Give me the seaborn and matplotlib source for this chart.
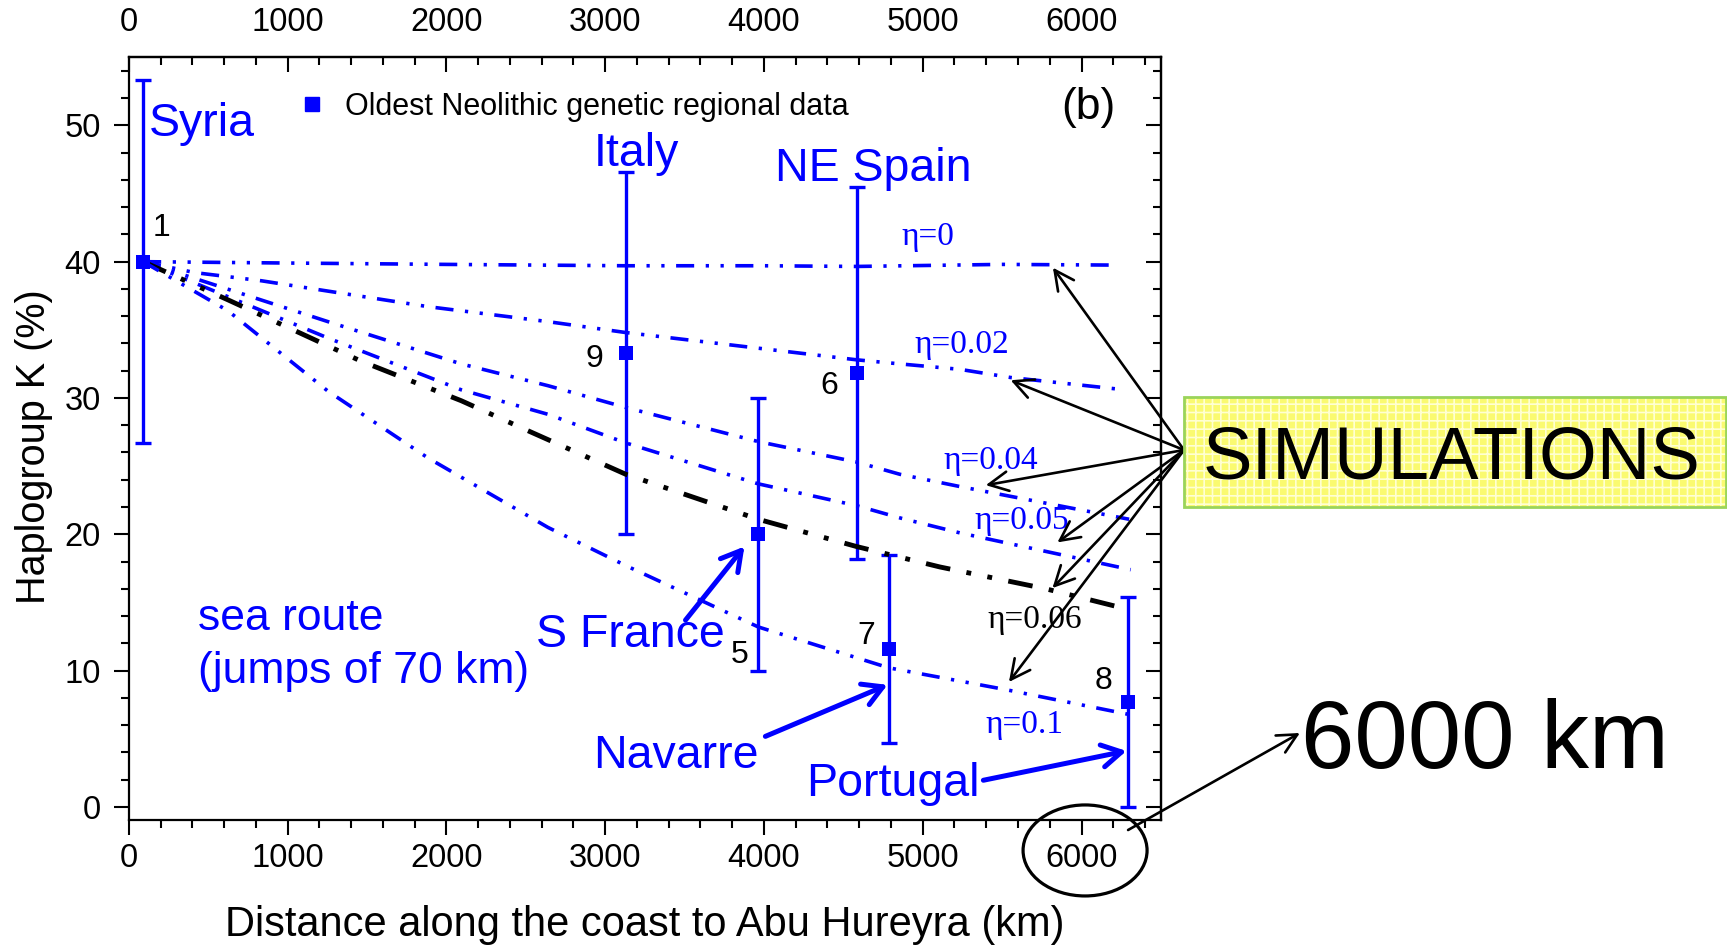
import numpy as np
import pandas as pd
import matplotlib.pyplot as plt
import matplotlib.ticker as ticker
from matplotlib.patches import Ellipse, Rectangle
from matplotlib.lines import Line2D
import seaborn as sns

sns.set_style('ticks')
plt.rcParams['font.family'] = ['Liberation Sans', 'DejaVu Sans']
plt.rcParams['hatch.linewidth'] = 1.2
for key in ['text.color', 'axes.labelcolor', 'xtick.color', 'ytick.color', 'axes.edgecolor']:
    plt.rcParams[key] = 'black'

BLUE = '#0000ff'
SERIF = ['Liberation Serif', 'DejaVu Serif']

### DATA ###

# Oldest Neolithic genetic regional data (distance km, haplogroup K %, error)
site_num = ['1', '9', '6', '5', '7', '8']
site_km = [90, 3130, 4583, 3964, 4786, 6295]
site_k = [40.0, 33.3, 31.8, 20.0, 11.6, 7.7]
site_err = [13.3, 13.3, 13.65, 10.0, 6.9, 7.7]

# Simulations, sea route (jumps of 70 km), one curve per eta
km_eta0 = [90, 1000, 2000, 3130, 4000, 4583, 5500, 6200]
k_eta0 = [40.0, 39.9, 39.8, 39.7, 39.7, 39.65, 39.8, 39.75]

km_eta002 = [90, 414, 834, 1884, 2640, 3130, 4583, 4856, 5234, 5554, 6270]
k_eta002 = [40.0, 39.2, 38.6, 36.7, 35.6, 34.8, 32.8, 32.5, 32.1, 31.5, 30.6]

km_eta004 = [90, 1254, 2093, 2640, 3130, 3964, 4583, 4856, 5234, 6300]
k_eta004 = [40.0, 35.6, 32.5, 30.9, 29.3, 26.8, 25.3, 24.4, 23.5, 21.1]

km_eta005 = [90, 1254, 2093, 2640, 3130, 3964, 4583, 4856, 5234, 6310]
k_eta005 = [40.0, 34.4, 30.6, 28.8, 26.7, 23.7, 22.1, 21.2, 20.1, 17.4]

km_eta006 = [90, 624, 1463, 2093, 2513, 3130, 3964, 4583, 5108, 5774, 6290]
k_eta006 = [40.0, 37.2, 32.7, 29.8, 27.6, 24.4, 21.1, 19.1, 17.6, 16.0, 14.5]

km_eta01 = [90, 624, 1254, 1884, 2640, 3130, 3964, 4786, 5523, 6290]
k_eta01 = [40.0, 36.4, 30.5, 25.6, 20.5, 17.7, 13.2, 10.2, 8.6, 6.8]

eta_names = ['0', '0.02', '0.04', '0.05', '0.06', '0.1']
eta_km = [km_eta0, km_eta002, km_eta004, km_eta005, km_eta006, km_eta01]
eta_k = [k_eta0, k_eta002, k_eta004, k_eta005, k_eta006, k_eta01]

curves = pd.concat(
    [pd.DataFrame({'km': x, 'K': y, 'eta': n}) for n, x, y in zip(eta_names, eta_km, eta_k)],
    ignore_index=True)

# styles per curve
line_colors = {n: BLUE for n in eta_names}
line_colors['0.06'] = 'black'
line_widths = {n: 2.6 for n in eta_names}
line_widths['0.06'] = 3.5
line_dashes = {n: (5.0, 3.2, 0.9, 3.2, 0.9, 3.2) for n in eta_names}
line_dashes['0.06'] = (5.1, 3.4, 1, 3.4, 1, 3.4)

### PLOT ###

fig = plt.figure(figsize=(17.27, 9.46), dpi=100)
ax = fig.add_axes([0.0746, 0.1327, 0.5976, 0.8068])

ax.errorbar(site_km, site_k, yerr=site_err, fmt='none', ecolor=BLUE,
            elinewidth=2.4, capsize=6, capthick=2.4, zorder=2)

sns.lineplot(data=curves, x='km', y='K', hue='eta', style='eta', size='eta',
             palette=line_colors, dashes=line_dashes, sizes=line_widths,
             estimator=None, sort=False, legend=False, ax=ax, zorder=3)

sns.scatterplot(x=site_km, y=site_k, marker='s', s=90, color=BLUE,
                linewidth=0, zorder=4, ax=ax)

ax.set_xlim(0, 6500)
ax.set_ylim(-1, 55)

# axes, ticks
ax.xaxis.set_major_locator(ticker.MultipleLocator(1000))
ax.xaxis.set_minor_locator(ticker.MultipleLocator(200))
ax.yaxis.set_major_locator(ticker.MultipleLocator(10))
ax.yaxis.set_minor_locator(ticker.MultipleLocator(2))
ax.tick_params(which='major', direction='out', length=11, width=1.5,
               labelsize=23.5, colors='black')
ax.tick_params(which='minor', direction='out', length=5.5, width=1.5)
ax.tick_params(axis='x', which='major', pad=5)
ax.tick_params(axis='y', which='major', pad=9)
for sp in ax.spines.values():
    sp.set_linewidth(1.6)
    sp.set_color('black')

top = ax.secondary_xaxis('top')
top.xaxis.set_major_locator(ticker.MultipleLocator(1000))
top.xaxis.set_minor_locator(ticker.MultipleLocator(200))
top.tick_params(which='major', direction='in', length=11, width=1.5,
                labelsize=23.5, pad=13.5, colors='black')
top.tick_params(which='minor', direction='in', length=5.5, width=1.5)
top.spines['top'].set_linewidth(1.6)

right = ax.secondary_yaxis('right')
right.yaxis.set_major_locator(ticker.MultipleLocator(10))
right.yaxis.set_minor_locator(ticker.MultipleLocator(2))
right.tick_params(which='major', direction='in', length=11, width=1.5, labelright=False)
right.tick_params(which='minor', direction='in', length=5.5, width=1.5)
right.spines['right'].set_linewidth(1.6)

ax.set_xlabel('Distance along the coast to Abu Hureyra (km)', fontsize=30)
ax.set_ylabel('Haplogroup K (%)', fontsize=28.5)
ax.xaxis.set_label_coords(0.5, -0.111)
ax.yaxis.set_label_coords(-0.0736, 0.49)

# legend
proxy = Line2D([], [], marker='s', ls='none', color=BLUE, markersize=9.5)
ax.legend(handles=[proxy], labels=['Oldest Neolithic genetic regional data'],
          loc='center left', bbox_to_anchor=(0.1623, 0.9351), frameon=False,
          fontsize=22, handlelength=1.0, handletextpad=0.58,
          borderpad=0, borderaxespad=0)

# region names
place = dict(color=BLUE, fontsize=33.5)
ax.text(125, 49.2, 'Syria', ha='left', va='baseline', **place)
ax.text(3197, 47.0, 'Italy', ha='center', va='baseline', **place)
ax.text(4688, 45.9, 'NE Spain', ha='center', va='baseline', **place)
ax.text(2566, 11.75, 'S France', ha='left', va='baseline', **place)
ax.text(2927, 2.85, 'Navarre', ha='left', va='baseline', **place)
ax.text(4265, 0.82, 'Portugal', ha='left', va='baseline', **place)
ax.text(435, 13.0, 'sea route', ha='left', va='baseline', color=BLUE, fontsize=32)
ax.text(435, 9.1, '(jumps of 70 km)', ha='left', va='baseline', color=BLUE, fontsize=32)
ax.text(6041, 50.5, '(b)', ha='center', va='baseline', fontsize=32)

# site numbers
num_x = [208, 2934, 4411, 3849, 4647, 6138]
num_y = [42.5, 32.86, 30.85, 11.14, 12.5, 9.2]
for lab, x, y in zip(site_num, num_x, num_y):
    ax.text(x, y, lab, ha='center', va='center', fontsize=23)

# eta labels
eta_lab_x = [5035, 5243, 5431, 5624, 5707, 5640]
eta_lab_y = [41.8, 33.9, 25.4, 21.0, 13.7, 6.0]
for n, x, y in zip(eta_names, eta_lab_x, eta_lab_y):
    ax.text(x, y, '\u03b7=' + n, ha='center', va='center', fontsize=24,
            family=SERIF, color=line_colors[n])

# blue arrows from names to data
blue_arrow = dict(arrowstyle='->, head_length=0.7, head_width=0.4', color=BLUE,
                  lw=3.6, mutation_scale=20, shrinkA=0, shrinkB=0)
ax.annotate('', xy=(3877, 19.1), xytext=(3506, 13.7), arrowprops=blue_arrow)
ax.annotate('', xy=(4778, 8.95), xytext=(4009, 5.17), arrowprops=blue_arrow)
ax.annotate('', xy=(6283, 4.1), xytext=(5382, 1.95), arrowprops=blue_arrow)

# SIMULATIONS box with arrows to each curve
fig.add_artist(Rectangle((0.6856, 0.4645), 0.3144, 0.1163, transform=fig.transFigure,
                         facecolor='#fafa70', edgecolor='#ffffd2', hatch='++',
                         linewidth=0, zorder=1))
fig.add_artist(Rectangle((0.6856, 0.4645), 0.3138, 0.1163, transform=fig.transFigure,
                         facecolor='none', edgecolor='#9ad45a', linewidth=2, zorder=2))
fig.text(0.8408, 0.4937, 'SIMULATIONS', ha='center', va='baseline', fontsize=53.5,
         color='black', zorder=3)

black_arrow = dict(arrowstyle='->, head_length=0.7, head_width=0.35', color='black',
                   lw=1.9, mutation_scale=20, shrinkA=0, shrinkB=0)
tip_x = [5820, 5554, 5397, 5848, 5817, 5543]
tip_y = [39.56, 31.3, 23.6, 19.4, 16.05, 9.16]
for x, y in zip(tip_x, tip_y):
    ax.annotate('', xy=(x, y), xytext=(0.6856, 0.5243), textcoords='figure fraction',
                arrowprops=black_arrow, annotation_clip=False)

# 6000 km highlight
fig.add_artist(Ellipse((0.6283, 0.1010), 0.0718, 0.0962, transform=fig.transFigure,
                       facecolor='none', edgecolor='black', linewidth=2.3))
ax.annotate('', xy=(0.7527, 0.2252), xycoords='figure fraction',
            xytext=(0.6532, 0.1226), textcoords='figure fraction',
            arrowprops=black_arrow, annotation_clip=False)
fig.text(0.7535, 0.188, '6000 km', ha='left', va='baseline', fontsize=69, color='black')

fig.savefig('out.png', dpi=100)
